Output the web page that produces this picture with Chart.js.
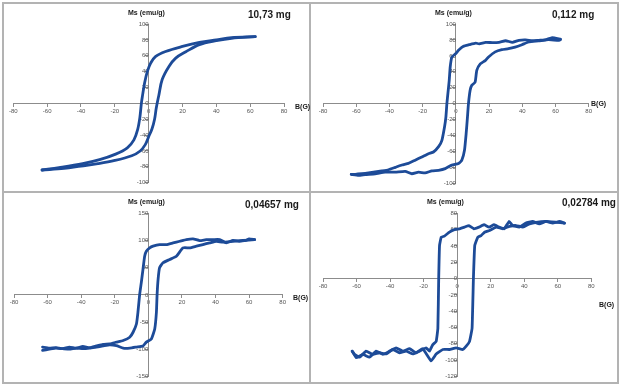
<!DOCTYPE html>
<html>
<head>
<meta charset="utf-8">
<script src="https://cdn.jsdelivr.net/npm/chart.js@4/dist/chart.umd.min.js"></script>
<style>
  html, body { margin: 0; padding: 0; background: #fff; }
  body { width: 624px; height: 389px; position: relative; overflow: hidden; font-family: "Liberation Sans", Arial, sans-serif; }
  .frame { position: absolute; border: 2px solid #b3b3b3; box-sizing: border-box; }
  canvas { position: absolute; }
  .t { position: absolute; white-space: nowrap; line-height: 1; color: #1a1a1a; font-weight: bold; }
  .ax { font-size: 7px; }
  .mass { font-size: 10px; }
</style>
</head>
<body>
<div class="frame" style="left:2px;top:2px;width:309px;height:191px"></div>
<div class="frame" style="left:309px;top:2px;width:310px;height:191px"></div>
<div class="frame" style="left:2px;top:191px;width:309px;height:193px"></div>
<div class="frame" style="left:309px;top:191px;width:310px;height:193px"></div>

<canvas id="c1"></canvas>
<canvas id="c2"></canvas>
<canvas id="c3"></canvas>
<canvas id="c4"></canvas>

<div class="t ax" style="left:128px;top:9px">Ms (emu/g)</div>
<div class="t mass" style="left:248px;top:10px">10,73 mg</div>
<div class="t ax" style="left:295px;top:103px">B(G)</div>

<div class="t ax" style="left:435px;top:9px">Ms (emu/g)</div>
<div class="t mass" style="left:552px;top:10px">0,112 mg</div>
<div class="t ax" style="left:591px;top:100px">B(G)</div>

<div class="t ax" style="left:128px;top:198px">Ms (emu/g)</div>
<div class="t mass" style="left:245px;top:200px">0,04657 mg</div>
<div class="t ax" style="left:293px;top:294px">B(G)</div>

<div class="t ax" style="left:427px;top:198px">Ms (emu/g)</div>
<div class="t mass" style="left:562px;top:198px">0,02784 mg</div>
<div class="t ax" style="left:599px;top:301px">B(G)</div>

<script>
// ---------- Data ----------
// Panel 1: 10,73 mg
const p1DownB = [63, 49, 40, 30, 20, 10, 4, 1.2, -0.8, -2.4, -3.7, -4.3, -5.2, -6.5, -8.7, -12.6, -19.5, -29, -39, -53, -63];
const p1DownM = [84, 82.8, 80, 76.7, 71.7, 65.4, 59, 50.7, 40, 25.6, 8.8, 0, -18, -33, -46, -56, -64, -71, -76, -81, -84];
const p1UpB = [-63, -50, -40, -30, -20, -10, -5, -2, 0, 2, 3.5, 4.5, 6, 8, 12, 16, 22, 30, 40, 49, 63];
const p1UpM = [-84, -82, -79, -76, -72, -66, -60, -52, -42, -32, -20, -6, 10, 30, 46.5, 57, 65, 74, 79, 82, 84];

// Panel 2: 0,112 mg
const p2DownB = [63, 58, 54, 50, 46, 42, 38, 34, 30, 26, 22, 18, 14, 12, 8, 4.6, 1.6, 0, -2.4, -3.4, -4, -4.8, -5.4, -6, -6.8, -8.4, -10.4, -13.5, -16.5, -20.5, -24.5, -28.5, -32.5, -36.5, -40.6, -44.6, -48.6, -52.6, -56.6, -60.6, -63];
const p2DownM = [81, 83, 80, 79.5, 79, 80, 79.5, 77, 79, 77, 76.6, 77, 75, 76, 74, 72, 67, 63, 58.6, 46, 29, 12.6, 0, -17, -29, -46, -54, -60.7, -62.8, -67, -71, -75, -77, -80, -83, -84.5, -85.8, -87, -88, -88.7, -88.7];
const p2UpB = [-63, -58.6, -54.6, -48.6, -42.6, -36.5, -30.5, -26.5, -22.5, -18.5, -14.5, -10.4, -6.4, -2.4, 1.6, 3.6, 5.2, 6.2, 7, 7.6, 8.6, 9.6, 11.6, 12.6, 14.7, 17.7, 19.7, 23.7, 27.7, 31.7, 35.7, 39.8, 43.8, 49.8, 55.8, 61.8, 63];
const p2UpM = [-88.7, -90, -89, -88, -86, -86, -85, -88, -86, -87, -84.5, -83.7, -81.6, -77, -75, -71, -58.6, -37.7, -16.7, 0, 16.7, 23, 27, 41.8, 50, 54, 58.6, 65, 67.8, 69, 71, 74, 77.4, 78.7, 80.3, 79.5, 80.3];

// Panel 3: 0,04657 mg
const p3DownB = [63.3, 60, 58, 54, 50.4, 46.4, 42.5, 38.5, 34.5, 30.6, 26.6, 22.6, 18.7, 14.7, 10.7, 6.7, 2.8, 0.8, -1.2, -2.2, -3.2, -4.2, -5.2, -6.2, -7.1, -9.1, -11.1, -15, -19, -23, -27, -31, -35, -39, -43, -47, -51, -55, -59, -63];
const p3DownM = [101.6, 103, 100, 98.6, 100, 95.6, 101.6, 101.6, 101.6, 99.8, 103, 101.6, 98.6, 95.6, 92.5, 92.5, 89.5, 86.4, 80.3, 71.2, 46.9, 22.5, 0, -32, -53.6, -68.8, -78, -84, -87, -90, -91, -94, -97, -95, -98, -96, -99, -97, -98, -96];
const p3UpB = [-63, -59, -55, -51, -47, -43, -39, -35, -31, -27, -23, -19, -15, -11, -7, -3.2, -1.2, 1.8, 3.8, 4.8, 5.2, 5.8, 6.7, 8.7, 12.7, 16.7, 20.6, 24.6, 28.6, 32.5, 36.5, 40.5, 44.4, 50.4, 56.3, 63.3];
const p3UpM = [-102, -100, -98, -99, -100, -98, -99, -98, -96, -94, -92, -93.5, -98, -98, -96, -94, -87, -81, -62.7, -32, 0, 28.6, 50, 59, 65, 71, 86.4, 86.4, 89.5, 92.5, 95.6, 98.6, 96.8, 98.6, 100, 101.6];

// Panel 4: 0,02784 mg
const p4DownB = [64, 61, 57, 53, 49, 45, 41, 37, 33, 31, 28, 25, 22, 19, 16, 13, 10, 7, 4.4, 1.4, -1.6, -4.6, -7.6, -9.5, -10.5, -11, -11.5, -12.5, -14.5, -16.5, -18.5, -22.5, -26.4, -30.4, -34.4, -38.4, -42.3, -46.3, -50.3, -54.3, -58.2, -61.2, -62.6];
const p4DownM = [68, 70, 68, 70, 67, 70, 68, 63, 65, 70, 61, 63, 66, 63, 66, 63, 61, 65, 63, 61, 60, 57, 52, 50.7, 40.6, 0, -61, -77, -81, -89, -85, -89, -92.5, -89, -91, -87, -92.5, -91, -93, -89, -96.5, -93, -89];
const p4UpB = [-62.6, -60.2, -56.3, -52.3, -48.3, -44.3, -40.3, -36.4, -32.4, -28.4, -24.5, -20.5, -15.5, -12.5, -8.5, -4.6, -0.6, 3.4, 5.4, 7.4, 8.9, 9.7, 10.5, 12.3, 14.3, 16.3, 19.3, 23.3, 27.2, 31.2, 35.2, 39.2, 43.1, 47.1, 53, 59, 64];
const p4UpM = [-89, -97, -93, -96.5, -89, -93, -89, -85, -89, -86, -91, -86, -101, -92.5, -87, -87, -85, -87, -83, -77, -61, 0, 40.6, 50.7, 52.7, 56.8, 58.8, 63, 61, 64, 65, 63, 67, 69, 70, 69, 68];

// Axis ranges / tick steps
const xRange = [-80, 80];
const xStep = 20;
const p1Y = [-100, 100], p1YStep = 20;
const p2Y = [-100, 100], p2YStep = 20;
const p3Y = [-150, 150], p3YStep = 50;
const p4Y = [-120, 80], p4YStep = 20;

// ---------- Layout (canvas box and plot box, in page pixels) ----------
const layouts = {
  c1: { box: [4, 4, 305, 186], plot: [13.3, 24, 284, 182.7] },
  c2: { box: [313, 4, 304, 186], plot: [323, 24, 588.7, 183.3] },
  c3: { box: [4, 194, 305, 188], plot: [14, 213.3, 282.7, 377.7] },
  c4: { box: [313, 194, 304, 188], plot: [323, 213.3, 591.3, 377.7] }
};

const BLUE = '#1d4b98';
const AXIS = '#8c8c8c';
const TICKTXT = '#555555';

function zip(bs, ms) { return bs.map((b, i) => ({ x: b, y: ms[i] })); }

function makeChart(id, downB, downM, upB, upM, yr, ystep, tension) {
  const L = layouts[id];
  const cv = document.getElementById(id);
  cv.width = L.box[2]; cv.height = L.box[3];
  cv.style.left = L.box[0] + 'px'; cv.style.top = L.box[1] + 'px';
  cv.style.width = L.box[2] + 'px'; cv.style.height = L.box[3] + 'px';
  const pad = {
    left: L.plot[0] - L.box[0],
    top: L.plot[1] - L.box[1],
    right: (L.box[0] + L.box[2]) - L.plot[2],
    bottom: (L.box[1] + L.box[3]) - L.plot[3]
  };
  const ds = (d) => ({
    data: d, showLine: true, borderColor: BLUE, backgroundColor: BLUE,
    borderWidth: 2.8, pointRadius: 0, pointHoverRadius: 0, fill: false,
    tension: tension, borderJoinStyle: 'round', borderCapStyle: 'round'
  });
  const tickFont = { family: '"Liberation Sans", Arial, sans-serif', size: 6 };
  new Chart(cv, {
    type: 'scatter',
    data: { datasets: [ds(zip(downB, downM)), ds(zip(upB, upM))] },
    options: {
      responsive: false, animation: false, maintainAspectRatio: false,
      devicePixelRatio: 1,
      layout: { padding: pad },
      plugins: { legend: { display: false }, tooltip: { enabled: false }, title: { display: false } },
      scales: {
        x: {
          type: 'linear', min: xRange[0], max: xRange[1], position: { y: 0 },
          ticks: { stepSize: xStep, font: tickFont, color: TICKTXT, padding: 1, maxRotation: 0, autoSkip: false },
          grid: { display: true, drawOnChartArea: false, drawTicks: true, tickLength: 3, color: AXIS },
          border: { display: true, color: AXIS, width: 1 },
          afterFit: (s) => { s.height = 0; }
        },
        y: {
          type: 'linear', min: yr[0], max: yr[1], position: { x: 0 },
          ticks: { stepSize: ystep, font: tickFont, color: TICKTXT, padding: 2, autoSkip: false },
          grid: { display: true, drawOnChartArea: false, drawTicks: true, tickLength: 3, color: AXIS },
          border: { display: true, color: AXIS, width: 1 },
          afterFit: (s) => { s.width = 0; }
        }
      }
    }
  });
}

makeChart('c1', p1DownB, p1DownM, p1UpB, p1UpM, p1Y, p1YStep, 0.35);
makeChart('c2', p2DownB, p2DownM, p2UpB, p2UpM, p2Y, p2YStep, 0.15);
makeChart('c3', p3DownB, p3DownM, p3UpB, p3UpM, p3Y, p3YStep, 0.15);
makeChart('c4', p4DownB, p4DownM, p4UpB, p4UpM, p4Y, p4YStep, 0.1);
</script>
</body>
</html>
